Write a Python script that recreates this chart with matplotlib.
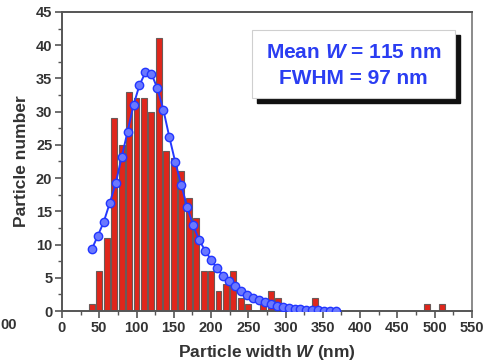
import matplotlib
matplotlib.use("Agg")
import matplotlib.pyplot as plt
from matplotlib.patches import Rectangle
from matplotlib.ticker import MultipleLocator

plt.rcParams["font.family"] = ["Liberation Sans", "DejaVu Sans"]
plt.rcParams["mathtext.fontset"] = "custom"
plt.rcParams["mathtext.it"] = "Liberation Sans:italic:bold"
plt.rcParams["mathtext.rm"] = "Liberation Sans:bold"

# ── histogram (bin centre in nm, particle count) ────────────────────────────
bin_centers = [40, 50, 60, 70, 80, 90, 100, 110, 120, 130, 140, 150, 160, 170,
               180, 190, 200, 210, 220, 230, 240, 250, 270, 280, 290, 340, 490, 510]
counts = [1, 6, 11, 29, 25, 33, 32, 32, 30, 41, 24, 23, 21, 17,
          14, 6, 6, 3, 4, 6, 2, 1, 1, 3, 2, 2, 1, 1]

# ── fitted distribution ─────────────────────────────────────────────────────
fit_w = [40, 48, 56, 64, 72, 80, 88, 96, 104, 112, 120, 128, 136, 144, 152,
         160, 168, 176, 184, 192, 200, 208, 216, 224, 232, 240, 248, 256, 264,
         272, 280, 288, 296, 304, 312, 320, 328, 336, 344, 352, 360, 368]
fit_n = [9.3, 11.3, 13.4, 16.2, 19.2, 23.1, 27.0, 31.0, 34.0, 35.9, 35.7, 33.5,
         30.3, 26.2, 22.4, 19.0, 15.6, 12.9, 10.7, 9.1, 7.7, 6.4, 5.3, 4.5, 3.7,
         3.0, 2.4, 2.0, 1.6, 1.3, 1.0, 0.8, 0.6, 0.45, 0.35, 0.25, 0.18, 0.12,
         0.08, 0.05, 0.03, 0.02]

fig = plt.figure(figsize=(4.9, 3.61), dpi=100)
ax = fig.add_axes([0.1265, 0.1385, 0.8365, 0.8285])

ax.bar(bin_centers, counts, width=8, color="#e0261b", edgecolor="#6b5a58",
       linewidth=0.8, zorder=2)
ax.plot(fit_w, fit_n, color="#2438ff", linewidth=1.4, marker="o", markersize=6,
        markerfacecolor="#6a78ff", markeredgecolor="#2236ff", markeredgewidth=1.0,
        zorder=3)

ax.set_xlim(0, 550)
ax.set_ylim(0, 45)
ax.xaxis.set_major_locator(MultipleLocator(50))
ax.xaxis.set_minor_locator(MultipleLocator(25))
ax.yaxis.set_major_locator(MultipleLocator(5))
ax.yaxis.set_minor_locator(MultipleLocator(2.5))
ax.tick_params(which="major", direction="out", length=5, width=1.2,
               color="#555555", labelsize=10.5, labelcolor="#333333", pad=2)
ax.tick_params(which="minor", direction="out", length=3, width=1.0, color="#555555")
for lab in ax.get_xticklabels() + ax.get_yticklabels():
    lab.set_fontweight("bold")

for side in ["left", "bottom", "top"]:
    ax.spines[side].set_color("#555555")
    ax.spines[side].set_linewidth(1.4)
ax.spines["right"].set_color("#8a8a8a")
ax.spines["right"].set_linewidth(1.4)

ax.set_xlabel("Particle width $W$ (nm)", fontsize=12.5, fontweight="bold",
              color="#333333", labelpad=6)
ax.set_ylabel("Particle number", fontsize=12.5, fontweight="bold",
              color="#333333", labelpad=5)

# end of the neighbouring panel's tick label at the left edge
fig.text(0.0, 1 - 325 / 361, "00", ha="left", va="center", fontsize=10.5,
         fontweight="bold", color="#333333")

# ── annotation box with drop shadow ────────────────────────────────────────
bx, by, bw, bh = 252 / 490, 1 - 98 / 361, 203 / 490, 68 / 361
fig.patches.append(Rectangle((bx + 5 / 490, by - 5 / 361), bw, bh,
                             transform=fig.transFigure, color="#111111", zorder=4))
fig.patches.append(Rectangle((bx, by), bw, bh, transform=fig.transFigure,
                             facecolor="white", edgecolor="#cfcfcf", linewidth=0.8,
                             zorder=5))
fig.text(bx + bw / 2, 1 - 52 / 361, "Mean $W$ = 115 nm", ha="center", va="center",
         fontsize=15, fontweight="bold", color="#2a3df2", zorder=6)
fig.text(bx + bw / 2, 1 - 78 / 361, "FWHM = 97 nm", ha="center", va="center",
         fontsize=15, fontweight="bold", color="#2a3df2", zorder=6)

fig.savefig("out.png", dpi=100)
